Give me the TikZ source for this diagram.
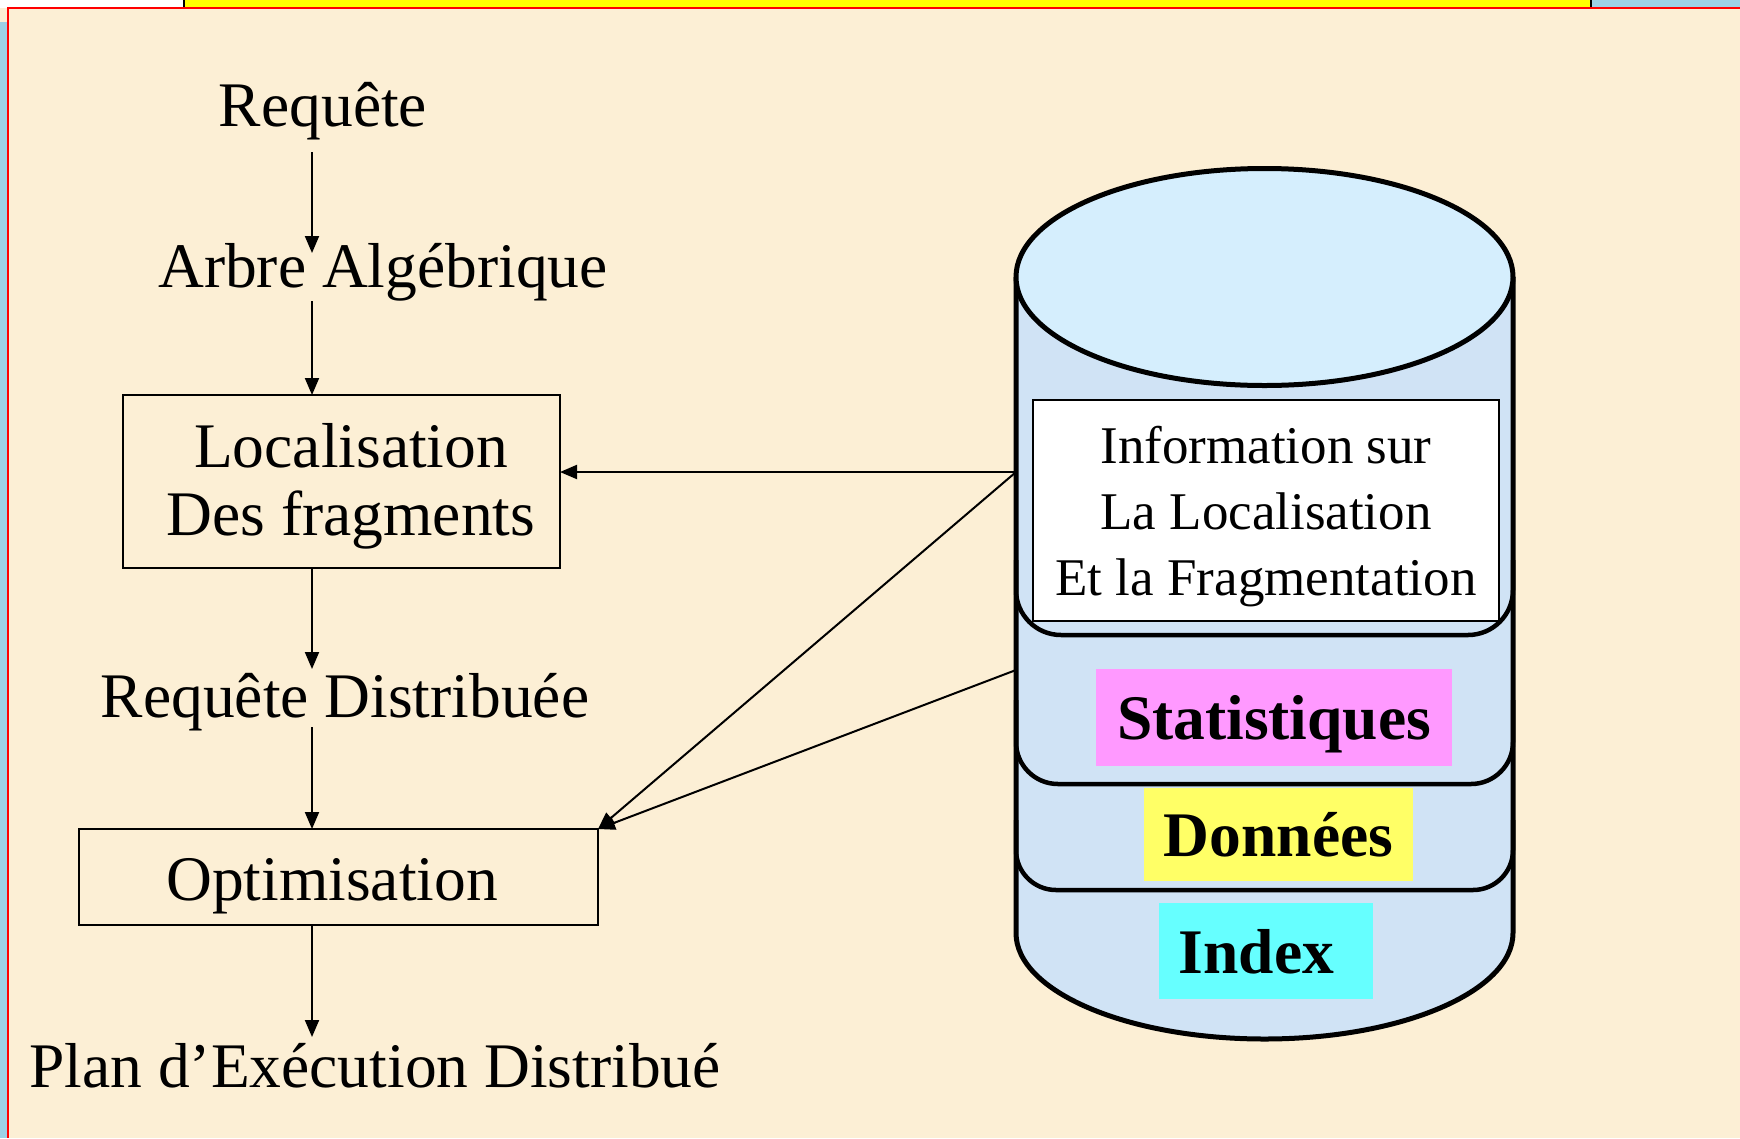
\documentclass[tikz,border=0pt]{standalone}
\usepackage{fontspec}
\setmainfont{Liberation Serif}
\usetikzlibrary{arrows.meta}
\definecolor{bgbeige}{HTML}{FCEFD5}
\definecolor{framered}{HTML}{FF0000}
\definecolor{topyellow}{HTML}{FFFF00}
\definecolor{stripblue}{HTML}{9DD0E5}
\definecolor{bodyblue}{HTML}{D0E3F5}
\definecolor{topblue}{HTML}{D5EEFD}
\definecolor{statpink}{HTML}{FF99FF}
\definecolor{donyellow}{HTML}{FFFF66}
\definecolor{idxcyan}{HTML}{66FFFF}
\begin{document}
\begin{tikzpicture}[x=1pt,y=-1pt,
  txt/.style={font=\fontsize{63.5pt}{76pt}\selectfont, inner sep=0pt, outer sep=0pt, anchor=base, text height=44pt, text depth=14pt},
  infotxt/.style={font=\fontsize{53pt}{64pt}\selectfont, inner sep=0pt, outer sep=0pt, anchor=base},
  boldlbl/.style={font=\fontsize{63.5pt}{76pt}\selectfont\bfseries, inner sep=0pt, outer sep=0pt, text height=44pt, text depth=0pt},
  procbox/.style={draw, line width=2pt, inner sep=0pt, outer sep=0pt},
  arr/.style={line width=2pt, -{Triangle[length=17pt,width=14pt]}},
  sep/.style={line width=4.5pt}
]
\useasboundingbox (0,0) rectangle (1740,1138);
% background and frame
\fill[bgbeige] (0,0) rectangle (1740,1138);
\fill[white] (0,0) rectangle (184,8);
\fill[topyellow] (184,0) rectangle (1591,7);
\fill[stripblue] (1591,0) rectangle (1740,7);
\draw[line width=1.5pt] (184,0) -- (184,7);
\draw[line width=1.5pt] (1591,0) -- (1591,7);
\fill[stripblue] (0,22) rectangle (7,1138);
\draw[framered, line width=2pt] (7,8) -- (1740,8);
\draw[framered, line width=2pt] (8,8) -- (8,1138);

% cylinder
\fill[bodyblue] (1016,277) -- (1016,933) .. controls (1016,991.5) and (1127.3,1039) .. (1264.5,1039) .. controls (1401.7,1039) and (1513,991.5) .. (1513,933) -- (1513,277) -- cycle;
\draw[line width=5pt] (1016,277) -- (1016,933) .. controls (1016,991.5) and (1127.3,1039) .. (1264.5,1039) .. controls (1401.7,1039) and (1513,991.5) .. (1513,933) -- (1513,277);
\draw[line width=5pt, fill=topblue] (1264.5,277) ellipse [x radius=248.5, y radius=108.5];
\draw[sep, rounded corners=45pt] (1016,560) -- (1016,635) -- (1513,635) -- (1513,560);
\draw[sep, rounded corners=42pt] (1016,700) -- (1016,784) -- (1513,784) -- (1513,700);
\draw[sep, rounded corners=40pt] (1016,820) -- (1016,890) -- (1513,890) -- (1513,820);

% information box
\node[draw, fill=white, line width=2pt, minimum width=466pt, minimum height=221pt, inner sep=0pt, outer sep=0pt] (info) at (1266,510.5) {};
\node[infotxt] (infoA) at (1266,463) {Information sur};
\node[infotxt] (infoB) at (1266,529) {La Localisation};
\node[infotxt] (infoC) at (1266,595) {Et la Fragmentation};

% coloured labels
\node[boldlbl, fill=statpink, minimum width=356pt, minimum height=97pt] (stat) at (1274,717.5) {Statistiques};
\node[boldlbl, fill=donyellow, minimum width=269pt, minimum height=93pt] (don) at (1278.5,834.5) {Données};
\node[boldlbl, fill=idxcyan, minimum width=214pt, minimum height=96pt] (idx) at (1266,951) {Index\hspace*{19pt}};

% left flow
\coordinate (col) at (312,0);
\node[txt] (req) at (323,126) {Requête};
\node[txt] (arb) at (383,287) {Arbre Algébrique};
\node[procbox, minimum width=437pt, minimum height=173pt] (loc) at (341.5,481.5) {};
\node[txt] (locA) at (351,467) {Localisation};
\node[txt] (locB) at (351,535) {Des fragments};
\node[txt] (rd) at (345,717) {Requête Distribuée};
\node[procbox, minimum width=519pt, minimum height=96pt] (opt) at (338.5,877) {};
\node[txt] (optT) at (332,900) {Optimisation};
\node[txt] (plan) at (375,1087) {Plan d’Exécution Distribué};

\draw[arr, shorten <=12pt, shorten >=-10pt] (req.south -| col) -- (arb.north -| col);
\draw[arr] (arb.south -| col) -- (loc.north -| col);
\draw[arr, shorten >=4pt] (loc.south -| col) -- (rd.north -| col);
\draw[arr, shorten <=-4pt] (rd.south -| col) -- (opt.north -| col);
\draw[arr, shorten >=6pt] (opt.south -| col) -- (plan.north -| col);

% connectors from the cylinder
\coordinate (cylA) at (1016,472);
\coordinate (cylB) at (1016,670);
\draw[arr] (cylA) -- (loc.east |- cylA);
\draw[arr] (cylA) -- (opt.north east);
\draw[arr] (cylB) -- (opt.north east);
\end{tikzpicture}
\end{document}
